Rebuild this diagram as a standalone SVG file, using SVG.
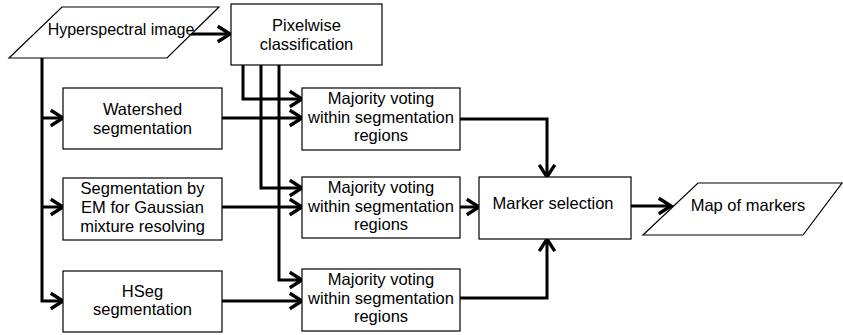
<svg xmlns="http://www.w3.org/2000/svg" width="843" height="335" viewBox="0 0 843 335">
<style>
.box{fill:#fff;stroke:#000;stroke-width:1.2}
.t{font-family:"Liberation Sans",Arial,sans-serif;font-size:16.5px;fill:#000;text-anchor:middle}
.c{fill:none;stroke:#000;stroke-width:3}
</style>
<defs>
<marker id="ah" markerUnits="userSpaceOnUse" markerWidth="20" markerHeight="20" refX="11" refY="0" viewBox="-2 -9 15 18" orient="auto" overflow="visible">
<path d="M0,-7 L11,0 L0,7" fill="none" stroke="#000" stroke-width="3"/>
</marker>
</defs>
<rect width="843" height="335" fill="#fff"/>
<g id="connectors">
<path class="c" d="M191,34 H230" marker-end="url(#ah)"/>
<path class="c" d="M42,58 V301 H63" marker-end="url(#ah)"/>
<path class="c" d="M42,118 H63" marker-end="url(#ah)"/>
<path class="c" d="M42,207 H63" marker-end="url(#ah)"/>
<path class="c" d="M243,65 V99 H302" marker-end="url(#ah)"/>
<path class="c" d="M261,65 V188 H302" marker-end="url(#ah)"/>
<path class="c" d="M279,65 V280 H302" marker-end="url(#ah)"/>
<path class="c" d="M222,118 H302" marker-end="url(#ah)"/>
<path class="c" d="M222,207 H302" marker-end="url(#ah)"/>
<path class="c" d="M222,301 H302" marker-end="url(#ah)"/>
<path class="c" d="M460,119 H547 V177" marker-end="url(#ah)"/>
<path class="c" d="M460,207 H479" marker-end="url(#ah)"/>
<path class="c" d="M460,298 H547 V239" marker-end="url(#ah)"/>
<path class="c" d="M631,206 H671" marker-end="url(#ah)"/>
</g>
<g id="hyperspectral">
<polygon class="box" points="62,7 219,7 167,58 9,58"/>
<text class="t" x="121" y="35" style="font-size:16px">Hyperspectral image</text>
</g>
<g id="pixelwise">
<rect class="box" x="231" y="4" width="151" height="61"/>
<text class="t" x="306.5" y="31">Pixelwise</text>
<text class="t" x="306.5" y="50">classification</text>
</g>
<g id="watershed">
<rect class="box" x="63" y="88" width="159" height="61"/>
<text class="t" x="142.5" y="115">Watershed</text>
<text class="t" x="142.5" y="134">segmentation</text>
</g>
<g id="em">
<rect class="box" x="63" y="178" width="159" height="62"/>
<text class="t" x="142.5" y="194">Segmentation by</text>
<text class="t" x="142.5" y="213">EM for Gaussian</text>
<text class="t" x="142.5" y="232">mixture resolving</text>
</g>
<g id="hseg">
<rect class="box" x="63" y="271" width="159" height="61"/>
<text class="t" x="142.5" y="297">HSeg</text>
<text class="t" x="142.5" y="315">segmentation</text>
</g>
<g id="majority1">
<rect class="box" x="302" y="88" width="158" height="62"/>
<text class="t" x="381" y="104">Majority voting</text>
<text class="t" x="381" y="123">within segmentation</text>
<text class="t" x="381" y="141">regions</text>
</g>
<g id="majority2">
<rect class="box" x="302" y="177" width="158" height="61"/>
<text class="t" x="381" y="193">Majority voting</text>
<text class="t" x="381" y="212">within segmentation</text>
<text class="t" x="381" y="230">regions</text>
</g>
<g id="majority3">
<rect class="box" x="302" y="269" width="158" height="62"/>
<text class="t" x="381" y="285">Majority voting</text>
<text class="t" x="381" y="304">within segmentation</text>
<text class="t" x="381" y="322">regions</text>
</g>
<g id="marker">
<rect class="box" x="479" y="177" width="152" height="62"/>
<text class="t" x="553" y="209">Marker selection</text>
</g>
<g id="map">
<polygon class="box" points="698,183 842,183 803,235 643,235"/>
<text class="t" x="748" y="211">Map of markers</text>
</g>
</svg>
